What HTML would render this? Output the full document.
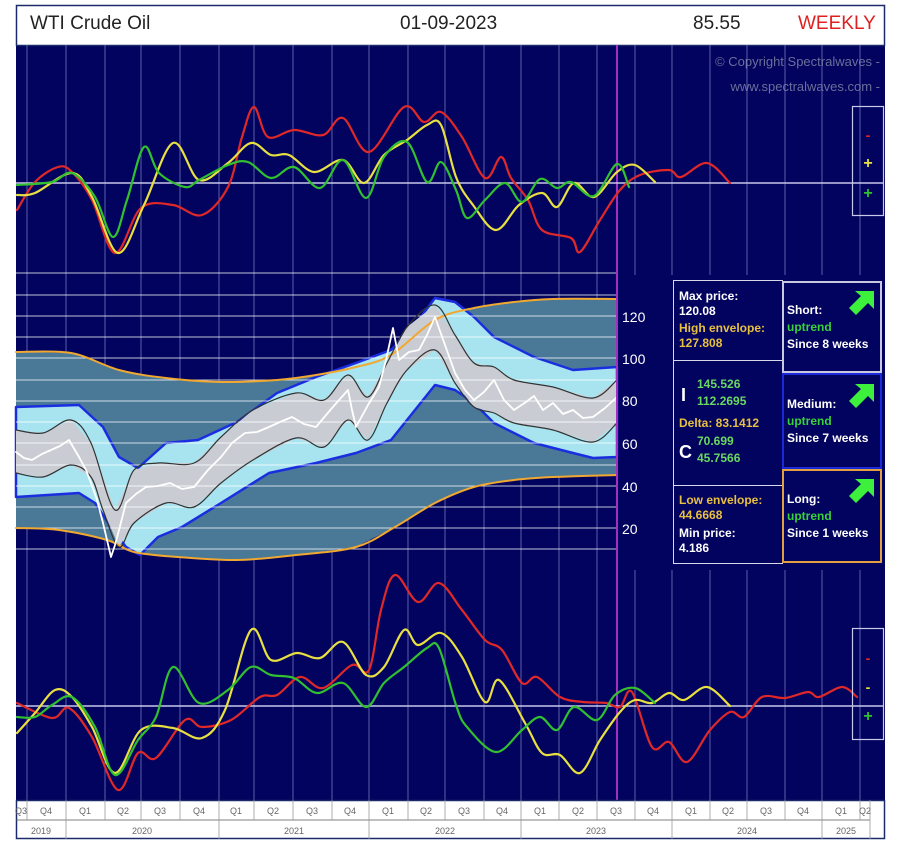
<!DOCTYPE html>
<html><head><meta charset="utf-8"><style>
body{margin:0;background:#fff;}
svg{display:block;font-family:"Liberation Sans",sans-serif;}
</style></head><body>
<svg id="c" width="900" height="847" viewBox="0 0 900 847" xmlns="http://www.w3.org/2000/svg">
<rect x="0" y="0" width="900" height="847" fill="#fff"/>
<rect x="16" y="45" width="869" height="755" fill="#02035e"/>
<!-- header -->
<rect x="16.5" y="5.5" width="868" height="40" fill="#fff" stroke="#1a2a6a" stroke-width="1.5"/>
<text x="30" y="29" font-size="19" fill="#222">WTI Crude Oil</text>
<text x="400" y="29" font-size="19" fill="#222">01-09-2023</text>
<text x="693" y="29" font-size="19" fill="#222">85.55</text>
<text x="798" y="29" font-size="19" fill="#e02020">WEEKLY</text>
<text x="880" y="66" font-size="13" fill="#6a6f9a" text-anchor="end">© Copyright Spectralwaves -</text>
<text x="880" y="91" font-size="13" fill="#6a6f9a" text-anchor="end">www.spectralwaves.com -</text>
<!-- vertical grid -->
<g stroke="#8f94d8" stroke-width="0.8" opacity="0.8">
<line x1="27" y1="45" x2="27" y2="800"/><line x1="66" y1="45" x2="66" y2="800"/><line x1="105" y1="45" x2="105" y2="800"/><line x1="141" y1="45" x2="141" y2="800"/><line x1="180" y1="45" x2="180" y2="800"/><line x1="219" y1="45" x2="219" y2="800"/><line x1="254" y1="45" x2="254" y2="800"/><line x1="293" y1="45" x2="293" y2="800"/><line x1="332" y1="45" x2="332" y2="800"/><line x1="369" y1="45" x2="369" y2="800"/><line x1="408" y1="45" x2="408" y2="800"/><line x1="445" y1="45" x2="445" y2="800"/><line x1="484" y1="45" x2="484" y2="800"/><line x1="521" y1="45" x2="521" y2="800"/><line x1="559" y1="45" x2="559" y2="800"/><line x1="597" y1="45" x2="597" y2="800"/>
<line x1="635" y1="45" x2="635" y2="275"/><line x1="672" y1="45" x2="672" y2="275"/><line x1="710" y1="45" x2="710" y2="275"/><line x1="747" y1="45" x2="747" y2="275"/><line x1="785" y1="45" x2="785" y2="275"/><line x1="822" y1="45" x2="822" y2="275"/><line x1="860" y1="45" x2="860" y2="275"/>
<line x1="635" y1="570" x2="635" y2="800"/><line x1="672" y1="570" x2="672" y2="800"/><line x1="710" y1="570" x2="710" y2="800"/><line x1="747" y1="570" x2="747" y2="800"/><line x1="785" y1="570" x2="785" y2="800"/><line x1="822" y1="570" x2="822" y2="800"/><line x1="860" y1="570" x2="860" y2="800"/>
</g>
<!-- middle panel -->
<polygon fill="#4a7897" points="16,352 71,353 119,370 166,378 221,382 277,380 316,375 356,367 391,355 435,320 474,308 514,302 553,299 617,299 617,475 553,477 514,480 474,487 435,503 395,527 356,547 296,555 237,560 178,557 134,552 107,540 59,530 16,528"/>
<polygon fill="#a8e4f0" stroke="#1a2ee0" stroke-width="2.5" stroke-linejoin="round" points="16,407 79,405 103,427 119,457 138,468 166,443 198,440 237,422 277,393 316,377 356,363 391,350 411,330 435,298 455,302 474,317 494,337 534,357 573,370 617,367 617,457 593,458 573,453 534,443 494,423 474,403 455,390 435,385 415,410 391,440 356,453 316,463 269,473 221,503 182,527 158,537 140,555 126,547 111,527 95,503 79,493 16,497"/>
<polygon fill="#c9cdd3" points="16,430 43,433 71,420 91,443 115,510 134,470 158,463 194,463 221,437 253,410 296,393 324,400 348,375 368,397 387,363 407,327 435,305 455,335 474,363 494,367 514,380 553,387 593,398 617,380 617,423 593,442 553,430 514,423 494,413 474,407 455,383 435,350 407,370 387,403 368,440 348,420 324,447 296,438 253,460 221,483 194,507 166,503 134,523 119,547 103,510 91,477 71,465 43,477 16,473"/>
<g stroke="#ffffff" stroke-width="1" opacity="0.75">
<line x1="16" y1="273" x2="617" y2="273"/><line x1="16" y1="295" x2="617" y2="295"/><line x1="16" y1="316" x2="617" y2="316"/><line x1="16" y1="337" x2="617" y2="337"/><line x1="16" y1="358" x2="617" y2="358"/><line x1="16" y1="380" x2="617" y2="380"/><line x1="16" y1="401" x2="617" y2="401"/><line x1="16" y1="422" x2="617" y2="422"/><line x1="16" y1="443" x2="617" y2="443"/><line x1="16" y1="465" x2="617" y2="465"/><line x1="16" y1="486" x2="617" y2="486"/><line x1="16" y1="507" x2="617" y2="507"/><line x1="16" y1="528" x2="617" y2="528"/><line x1="16" y1="549" x2="617" y2="549"/>
</g>
<g fill="none" stroke-linejoin="round" stroke-linecap="round">
<polyline class="s" stroke="#f0a830" stroke-width="2" points="16,352 71,353 119,370 166,378 221,382 277,380 316,375 356,367 391,355 435,320 474,308 514,302 553,299 617,299"/>
<polyline class="s" stroke="#f0a830" stroke-width="2" points="16,528 59,530 107,540 134,552 178,557 237,560 296,555 356,547 395,527 435,503 474,487 514,480 553,477 617,475"/>
<polyline class="s" stroke="#333" stroke-width="1.2" points="16,430 43,433 71,420 91,443 115,510 134,470 158,463 194,463 221,437 253,410 296,393 324,400 348,375 368,397 387,363 407,327 435,305 455,335 474,363 494,367 514,380 553,387 593,398 617,380"/>
<polyline class="s" stroke="#333" stroke-width="1.2" points="16,473 43,477 71,465 91,477 103,510 119,547 134,523 166,503 194,507 221,483 253,460 296,438 324,447 348,420 368,440 387,403 407,370 435,350 455,383 474,407 494,413 514,423 553,430 593,442 617,423"/>
<polyline stroke="#fff" stroke-width="1.8" points="16,452 24,458 32,460 42,454 51,450 60,446 69,440 79,457 86,470 91,483 97,500 103,523 107,540 111,557 115,545 119,530 126,503 136,494 146,487 158,486 170,483 182,489 194,487 208,470 221,457 232,443 245,433 257,432 269,427 280,422 292,417 304,424 316,427 332,408 348,390 352,410 356,427 368,405 379,387 386,360 393,328 399,360 409,352 419,350 427,335 435,317 445,345 455,373 465,390 474,400 484,392 494,380 504,400 514,410 526,402 534,396 543,410 553,403 563,414 573,410 583,418 593,417 605,408 617,397"/>
</g>
<!-- price labels -->
<g font-size="14" fill="#fff">
<text x="622" y="322">120</text><text x="622" y="364">100</text><text x="622" y="406">80</text><text x="622" y="449">60</text><text x="622" y="492">40</text><text x="622" y="534">20</text>
</g>
<!-- info boxes -->
<g fill="#02035e" stroke="#d8d8e8" stroke-width="1">
<rect x="673.5" y="280.5" width="109" height="80"/><rect x="673.5" y="360.5" width="109" height="125"/><rect x="673.5" y="485.5" width="109" height="78"/>
</g>
<rect x="783" y="282" width="98" height="90" fill="#02035e" stroke="#c8c8e0" stroke-width="2"/>
<rect x="783" y="374" width="98" height="94" fill="#02035e" stroke="#1a2ad8" stroke-width="2"/>
<rect x="783" y="470" width="98" height="92" fill="#02035e" stroke="#e0a040" stroke-width="2"/>
<g font-size="12" font-weight="bold">
<text x="679" y="300" fill="#fff">Max price:</text><text x="679" y="315" fill="#fff">120.08</text>
<text x="679" y="332" fill="#e8c040">High envelope:</text><text x="679" y="347" fill="#e8c040">127.808</text>
<text x="697" y="388" fill="#6ad860">145.526</text><text x="697" y="405" fill="#6ad860">112.2695</text>
<text x="679" y="427" fill="#e8c040">Delta: 83.1412</text>
<text x="697" y="445" fill="#6ad860">70.699</text><text x="697" y="462" fill="#6ad860">45.7566</text>
<text x="679" y="504" fill="#e8c040">Low envelope:</text><text x="679" y="519" fill="#e8c040">44.6668</text>
<text x="679" y="537" fill="#fff">Min price:</text><text x="679" y="552" fill="#fff">4.186</text>
<text x="787" y="314" fill="#fff">Short:</text><text x="787" y="331" fill="#3ad03a">uptrend</text><text x="787" y="348" fill="#fff">Since 8 weeks</text>
<text x="787" y="408" fill="#fff">Medium:</text><text x="787" y="425" fill="#3ad03a">uptrend</text><text x="787" y="442" fill="#fff">Since 7 weeks</text>
<text x="787" y="503" fill="#fff">Long:</text><text x="787" y="520" fill="#3ad03a">uptrend</text><text x="787" y="537" fill="#fff">Since 1 weeks</text>
</g>
<text x="681" y="401" font-size="18" font-weight="bold" fill="#fff">I</text>
<text x="679" y="458" font-size="18" font-weight="bold" fill="#fff">C</text>
<g fill="#3cf03c">
<polygon points="874,291 874,309 868,303 856,315 849,308 861,296 855,291" />
<polygon points="874,384 874,402 868,396 856,408 849,401 861,389 855,384" />
<polygon points="874,479 874,497 868,491 856,503 849,496 861,484 855,479" />
</g>
<!-- purple line -->
<line x1="617" y1="45" x2="617" y2="800" stroke="#a030c0" stroke-width="2"/>
<!-- top panel -->
<line x1="16" y1="183" x2="884" y2="183" stroke="#c8c8e8" stroke-width="1.5"/>
<g fill="none" stroke-width="2.2" stroke-linejoin="round" stroke-linecap="round">
<polyline class="s" stroke="#e02828" points="17,210 35,182 58,167 72,172 92,200 115,253 141,208 173,205 202,215 228,187 242,137 254,107 268,137 294,130 323,135 343,118 369,152 404,107 424,122 441,112 462,137 485,178 501,157 511,178 528,200 542,230 571,238 580,252 600,220 620,190 640,175 669,170 681,177 707,163 730,183"/>
<polyline class="s" stroke="#e8e040" points="17,195 35,193 72,173 92,197 118,253 144,205 173,143 199,180 228,163 251,143 271,155 289,155 314,172 343,160 364,183 384,155 407,140 427,125 441,125 456,177 473,205 496,230 519,205 542,193 557,207 574,183 594,197 617,172 635,165 655,182"/>
<polyline class="s" stroke="#30c030" points="17,185 52,182 72,173 95,197 113,237 127,200 144,147 159,173 185,187 199,180 228,165 248,162 271,178 294,167 320,188 343,160 366,198 384,157 407,142 427,182 441,162 456,190 467,218 485,200 505,183 522,202 540,179 557,188 571,182 594,196 617,164 629,187"/>
</g>
<rect x="852.5" y="106.5" width="31" height="109" fill="none" stroke="#c8c8e8" stroke-width="1.2"/>
<text x="868" y="140" font-size="14" font-weight="bold" fill="#e02828" text-anchor="middle">-</text>
<text x="868" y="168" font-size="16" font-weight="bold" fill="#e8e040" text-anchor="middle">+</text>
<text x="868" y="198" font-size="16" font-weight="bold" fill="#30c030" text-anchor="middle">+</text>
<!-- bottom panel -->
<line x1="16" y1="706" x2="884" y2="706" stroke="#c8c8e8" stroke-width="1.5"/>
<g fill="none" stroke-width="2.2" stroke-linejoin="round" stroke-linecap="round">
<polyline class="s" stroke="#e02828" points="17,703 52,718 69,708 92,737 118,790 138,753 156,758 185,720 202,727 231,720 260,697 277,695 300,677 323,688 352,665 369,670 381,610 395,575 418,602 439,583 462,610 485,640 502,650 522,683 537,677 560,697 583,702 606,703 620,707 632,692 652,747 669,742 687,762 710,730 730,712 744,717 762,697 785,698 808,692 819,697 842,687 857,697"/>
<polyline class="s" stroke="#e8e040" points="17,733 35,713 55,690 72,697 92,727 115,773 141,730 173,728 202,738 225,710 251,630 271,660 297,653 320,658 343,642 366,675 384,667 404,630 418,645 441,633 462,657 485,702 499,680 525,723 542,753 560,755 580,773 600,740 620,712 635,700 652,703 669,693 684,700 707,687 730,706"/>
<polyline class="s" stroke="#30c030" points="17,717 35,717 52,705 72,697 95,727 115,775 138,740 156,717 173,667 199,703 228,690 251,667 271,675 294,678 317,693 343,683 366,707 384,683 404,667 427,648 439,648 456,705 467,727 496,752 522,730 540,717 557,730 574,707 597,720 615,695 635,688 655,703"/>
</g>
<rect x="852.5" y="628.5" width="31" height="111" fill="none" stroke="#c8c8e8" stroke-width="1.2"/>
<text x="868" y="663" font-size="14" font-weight="bold" fill="#e02828" text-anchor="middle">-</text>
<text x="868" y="692" font-size="14" font-weight="bold" fill="#e8e040" text-anchor="middle">-</text>
<text x="868" y="721" font-size="16" font-weight="bold" fill="#30c030" text-anchor="middle">+</text>
<!-- axis -->
<rect x="16" y="800" width="869" height="39" fill="#fff"/>
<rect x="16.5" y="800.5" width="868" height="38" fill="none" stroke="#1a2a6a" stroke-width="1.5"/>
<line x1="16" y1="820" x2="870" y2="820" stroke="#555" stroke-width="0.8"/>
<g stroke="#999" stroke-width="0.8">
<line x1="27" y1="800" x2="27" y2="820"/><line x1="66" y1="800" x2="66" y2="839"/><line x1="105" y1="800" x2="105" y2="820"/><line x1="141" y1="800" x2="141" y2="820"/><line x1="180" y1="800" x2="180" y2="820"/><line x1="219" y1="800" x2="219" y2="839"/><line x1="254" y1="800" x2="254" y2="820"/><line x1="293" y1="800" x2="293" y2="820"/><line x1="332" y1="800" x2="332" y2="820"/><line x1="369" y1="800" x2="369" y2="839"/><line x1="408" y1="800" x2="408" y2="820"/><line x1="445" y1="800" x2="445" y2="820"/><line x1="484" y1="800" x2="484" y2="820"/><line x1="521" y1="800" x2="521" y2="839"/><line x1="559" y1="800" x2="559" y2="820"/><line x1="597" y1="800" x2="597" y2="820"/><line x1="635" y1="800" x2="635" y2="820"/><line x1="672" y1="800" x2="672" y2="839"/><line x1="710" y1="800" x2="710" y2="820"/><line x1="747" y1="800" x2="747" y2="820"/><line x1="785" y1="800" x2="785" y2="820"/><line x1="822" y1="800" x2="822" y2="839"/><line x1="860" y1="800" x2="860" y2="820"/><line x1="870" y1="800" x2="870" y2="839"/>
</g>
<g font-size="9" fill="#666" text-anchor="middle">
<text x="21" y="814">Q3</text><text x="46" y="814">Q4</text><text x="85" y="814">Q1</text><text x="123" y="814">Q2</text><text x="160" y="814">Q3</text><text x="199" y="814">Q4</text><text x="236" y="814">Q1</text><text x="273" y="814">Q2</text><text x="312" y="814">Q3</text><text x="350" y="814">Q4</text><text x="388" y="814">Q1</text><text x="426" y="814">Q2</text><text x="464" y="814">Q3</text><text x="502" y="814">Q4</text><text x="540" y="814">Q1</text><text x="578" y="814">Q2</text><text x="616" y="814">Q3</text><text x="653" y="814">Q4</text><text x="691" y="814">Q1</text><text x="728" y="814">Q2</text><text x="766" y="814">Q3</text><text x="803" y="814">Q4</text><text x="841" y="814">Q1</text><text x="865" y="814">Q2</text>
<text x="41" y="834">2019</text><text x="142" y="834">2020</text><text x="294" y="834">2021</text><text x="445" y="834">2022</text><text x="596" y="834">2023</text><text x="747" y="834">2024</text><text x="846" y="834">2025</text>
</g>
</svg>
<script>
(function(){
var ns="http://www.w3.org/2000/svg";
var els=document.querySelectorAll("polyline.s");
for(var k=0;k<els.length;k++){
 var el=els[k];
 var p=el.getAttribute("points").trim().split(/\s+/).map(function(s){var a=s.split(",");return[+a[0],+a[1]];});
 var d="M"+p[0][0]+","+p[0][1];
 for(var i=0;i<p.length-1;i++){
  var p0=p[i-1]||p[i],p1=p[i],p2=p[i+1],p3=p[i+2]||p2;
  var c1x=p1[0]+(p2[0]-p0[0])/6,c1y=p1[1]+(p2[1]-p0[1])/6;
  var c2x=p2[0]-(p3[0]-p1[0])/6,c2y=p2[1]-(p3[1]-p1[1])/6;
  d+=" C"+c1x.toFixed(1)+","+c1y.toFixed(1)+" "+c2x.toFixed(1)+","+c2y.toFixed(1)+" "+p2[0]+","+p2[1];
 }
 var path=document.createElementNS(ns,"path");
 path.setAttribute("d",d);
 ["stroke","stroke-width"].forEach(function(a){if(el.getAttribute(a))path.setAttribute(a,el.getAttribute(a));});
 path.setAttribute("fill","none");
 el.parentNode.replaceChild(path,el);
}
})();
</script>
</body></html>
